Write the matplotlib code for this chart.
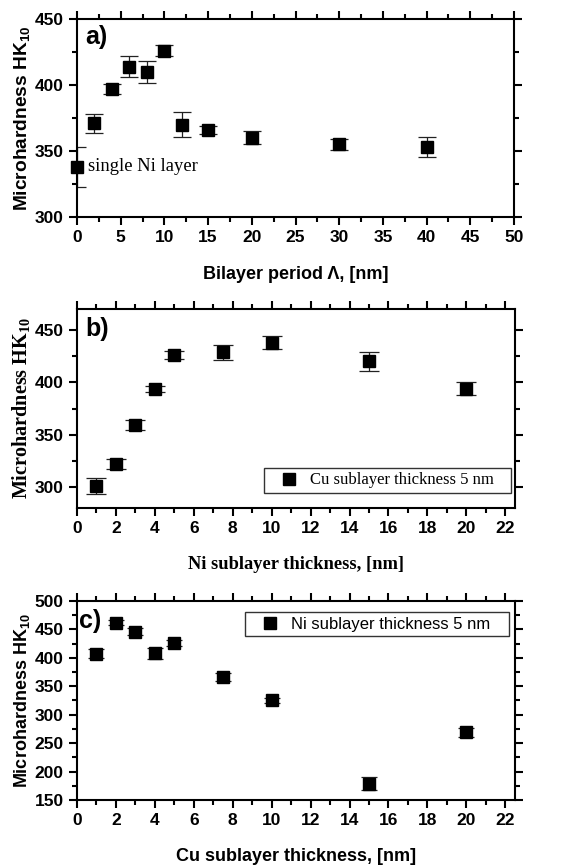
import matplotlib
matplotlib.use("Agg")
from matplotlib import pyplot as plt
from matplotlib.ticker import MultipleLocator

plt.rcParams['mathtext.default'] = 'regular'

SANS = 'Liberation Sans'
SERIF = 'Liberation Serif'

# panel a: bilayer period
period = [0, 2, 4, 6, 8, 10, 12, 15, 20, 30, 40]
hk_period = [338, 371, 397, 414, 410, 426, 370, 366, 360, 355, 353]
err_period = [15, 7, 4, 8, 8.3, 4, 9.2, 3, 5, 4.2, 7.5]

# panel b: Ni sublayer thickness (Cu = 5 nm)
ni_thick = [1, 2, 3, 4, 5, 7.5, 10, 15, 20]
hk_ni = [301, 322, 359, 394, 426, 428.5, 438, 420, 394]
err_ni = [8, 4.8, 4.8, 2.8, 4.2, 7.5, 6.2, 9, 6.5]

# panel c: Cu sublayer thickness (Ni = 5 nm)
cu_thick = [1, 2, 3, 4, 5, 7.5, 10, 15, 20]
hk_cu = [407, 462, 446, 408, 426, 366, 325, 179, 269]
err_cu = [8, 4.5, 6, 10, 6, 7.5, 5, 11, 8.5]

fig = plt.figure(figsize=(5.76, 8.68), dpi=100)
W, H = 576, 868


def make_ax(top, bottom, left=77, right=514):
    return fig.add_axes([left / W, 1 - bottom / H, (right - left) / W, (bottom - top) / H])


def style(ax, xmaj, xmin, ymaj, ymin):
    for s in ax.spines.values():
        s.set_linewidth(1.5)
    ax.xaxis.set_major_locator(MultipleLocator(xmaj))
    ax.xaxis.set_minor_locator(MultipleLocator(xmin))
    ax.yaxis.set_major_locator(MultipleLocator(ymaj))
    ax.yaxis.set_minor_locator(MultipleLocator(ymin))
    ax.tick_params(which='both', direction='out', top=True, right=True, width=1.5)
    ax.tick_params(which='major', length=6)
    ax.tick_params(which='minor', length=3.5)
    for lab in ax.get_xticklabels() + ax.get_yticklabels():
        lab.set_fontfamily(SANS)
        lab.set_fontweight('bold')
        lab.set_fontsize(12.5)


def points(ax, x, y, e, cap):
    ax.errorbar(x, y, yerr=e, fmt='none', ecolor='#222222', elinewidth=0.9,
                capsize=cap, capthick=0.9, zorder=2)
    return ax.plot(x, y, 's', color='black', markersize=8.5, zorder=3, clip_on=False)[0]


def panel_tag(ax, letter, x, y):
    ax.text(x, y, letter, transform=ax.transAxes, family=SANS, weight='bold',
            fontsize=18, va='top', ha='left')


def boxed_legend(ax, handle, label, family, loc, anchor):
    leg = ax.legend([handle], [label + '   '], loc=loc,
                    prop={'family': family, 'size': 12}, fancybox=False, frameon=True,
                    edgecolor='black', borderpad=0.28, handlelength=2.5,
                    handletextpad=0.0, borderaxespad=0, bbox_to_anchor=anchor)
    leg.get_frame().set_linewidth(1.0)
    return leg


# ---- a)
ax1 = make_ax(19, 217)
points(ax1, period, hk_period, err_period, 6.5)
ax1.set_xlim(0, 50)
ax1.set_ylim(300, 450)
style(ax1, 5, 2.5, 50, 25)
ax1.set_xlabel('Bilayer period \u039b, [nm]', family=SANS, weight='bold', fontsize=13, labelpad=15)
ax1.set_ylabel('Microhardness HK$_{10}$', family=SANS, weight='bold', fontsize=13.8, labelpad=2)
panel_tag(ax1, 'a)', 0.018, 0.97)
ax1.text(1.3, 338, 'single Ni layer', family=SERIF, fontsize=13.4, va='center')

# ---- b)
ax2 = make_ax(309, 508, right=515)
h2 = points(ax2, ni_thick, hk_ni, err_ni, 7)
ax2.set_xlim(0, 22.5)
ax2.set_ylim(280, 470)
style(ax2, 2, 1, 50, 25)
ax2.set_xlabel('Ni sublayer thickness, [nm]', family=SERIF, weight='bold', fontsize=13.3, labelpad=14)
ax2.set_ylabel('Microhardness HK$_{10}$', family=SERIF, weight='bold', fontsize=14.5, labelpad=2)
panel_tag(ax2, 'b)', 0.018, 0.96)
boxed_legend(ax2, h2, 'Cu sublayer thickness 5 nm', SERIF, 'lower right', (0.991, 0.075))

# ---- c)
ax3 = make_ax(601, 800, right=515)
h3 = points(ax3, cu_thick, hk_cu, err_cu, 6)
ax3.set_xlim(0, 22.5)
ax3.set_ylim(150, 500)
style(ax3, 2, 1, 50, 25)
ax3.set_xlabel('Cu sublayer thickness, [nm]', family=SANS, weight='bold', fontsize=13, labelpad=14)
ax3.set_ylabel('Microhardness HK$_{10}$', family=SANS, weight='bold', fontsize=13, labelpad=2)
panel_tag(ax3, 'c)', 0.005, 0.96)
boxed_legend(ax3, h3, 'Ni sublayer thickness 5 nm', SANS, 'upper right', (0.986, 0.945))

fig.savefig('out.png', dpi=100)
